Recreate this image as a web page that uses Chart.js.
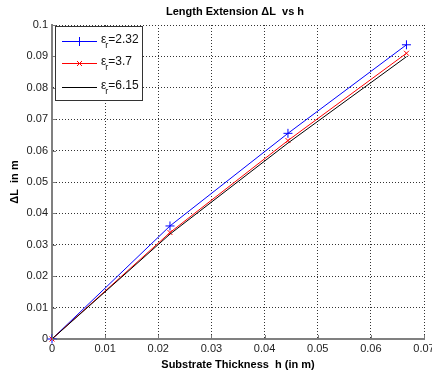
<!DOCTYPE html>
<html>
<head>
<meta charset="utf-8">
<script src="https://cdn.jsdelivr.net/npm/chart.js@4"></script>
<style>
  body { margin: 0; background: #fff; }
  canvas { display: block; }
</style>
</head>
<body>
<canvas id="myChart" width="432" height="375"></canvas>
<script>
// substrate thickness h (m)
var hValues = [0, 0.0222, 0.0444, 0.0667];
// length extension dL (m) for each permittivity
var dL_232 = [0, 0.0360, 0.0655, 0.0937];
var dL_37  = [0, 0.0339, 0.0632, 0.0910];
var dL_615 = [0, 0.0334, 0.0624, 0.0899];
var epsValues = ['2.32', '3.7', '6.15'];
var seriesColors = ['rgb(0,0,255)', 'rgb(255,0,0)', 'rgb(0,0,0)'];
var seriesMarkers = ['cross', 'crossRot', 'none'];

var chartTitle = 'Length Extension \u0394L  vs h';
var xTitle = 'Substrate Thickness  h (in m)';
var yTitle = '\u0394L  in m';

var FONT = 'Arial, "Liberation Sans", Helvetica, sans-serif';

function toPoints(ys){
    return hValues.map(function(h, i){ return {x: h, y: ys[i]}; });
}

// MATLAB-ish title + inward ticks + legend with subscript
var extras = {
    id: 'extras',
    afterDraw: function(chart){
        var ctx = chart.ctx;
        var a = chart.chartArea;
        var xs = chart.scales.x, ys = chart.scales.y;
        ctx.save();

        // inward ticks
        ctx.fillStyle = '#7a7a7a';
        xs.ticks.forEach(function(t){
            var px = Math.round(xs.getPixelForValue(t.value));
            ctx.fillRect(px, a.bottom - 4, 1, 4);
        });
        ys.ticks.forEach(function(t){
            var py = Math.round(ys.getPixelForValue(t.value));
            ctx.fillRect(a.left, py, 4, 1);
        });

        // title
        ctx.fillStyle = '#000';
        ctx.font = 'bold 11px ' + FONT;
        ctx.textAlign = 'center';
        ctx.textBaseline = 'middle';
        ctx.fillText(chartTitle, (a.left + a.right) / 2 - 3, 12);

        // legend box
        ctx.fillStyle = '#333';
        ctx.fillRect(55, 26, 88, 75);
        ctx.fillStyle = '#fff';
        ctx.fillRect(56, 27, 86, 73);

        var rows = [41, 63, 87];
        for (var i = 0; i < epsValues.length; i++) {
            var y = rows[i];
            var col = seriesColors[i];
            ctx.fillStyle = col;
            ctx.fillRect(62, y, 35, 1);
            if (seriesMarkers[i] === 'cross') {
                ctx.fillRect(79, y - 4, 1, 9);
                ctx.fillRect(75, y, 9, 1);
            } else if (seriesMarkers[i] === 'crossRot') {
                ctx.strokeStyle = col;
                ctx.lineWidth = 1;
                ctx.beginPath();
                ctx.moveTo(77, y - 2); ctx.lineTo(82, y + 3);
                ctx.moveTo(77, y + 3); ctx.lineTo(82, y - 2);
                ctx.stroke();
            }
            ctx.fillStyle = '#111';
            ctx.textAlign = 'left';
            ctx.textBaseline = 'middle';
            ctx.font = '12px ' + FONT;
            var tx = 101;
            ctx.fillText('\u03b5', tx, y - 1);
            var w = ctx.measureText('\u03b5').width;
            ctx.font = '9px ' + FONT;
            ctx.fillText('r', tx + w - 1, y + 5);
            var w2 = ctx.measureText('r').width;
            ctx.font = '12px ' + FONT;
            ctx.fillText('=' + epsValues[i], tx + w + w2 - 1, y - 1);
        }
        ctx.restore();
    }
};

var ctx = document.getElementById('myChart').getContext('2d');
var myChart = new Chart(ctx, {
    type: 'scatter',
    data: {
        datasets: [{
            label: 'er=' + epsValues[0],
            data: toPoints(dL_232),
            showLine: true,
            borderColor: seriesColors[0],
            backgroundColor: seriesColors[0],
            borderWidth: 1,
            pointStyle: 'cross',
            pointRadius: 4.5,
            pointBorderWidth: 1,
            clip: 6,
            order: 3
        }, {
            label: 'er=' + epsValues[1],
            data: toPoints(dL_37),
            showLine: true,
            borderColor: seriesColors[1],
            backgroundColor: seriesColors[1],
            borderWidth: 1,
            pointStyle: 'crossRot',
            pointRadius: 3.5,
            pointBorderWidth: 1,
            clip: 6,
            order: 2
        }, {
            label: 'er=' + epsValues[2],
            data: toPoints(dL_615),
            showLine: true,
            borderColor: seriesColors[2],
            backgroundColor: seriesColors[2],
            borderWidth: 1,
            pointRadius: 0,
            clip: 6,
            order: 1
        }]
    },
    options: {
        responsive: false,
        animation: false,
        layout: { padding: { left: 0, right: 8, top: 25, bottom: 0 } },
        plugins: {
            legend: { display: false },
            title: { display: false },
            tooltip: { enabled: false }
        },
        scales: {
            x: {
                type: 'linear',
                min: 0,
                max: 0.07,
                afterFit: function(s){ s.height = 36; s.paddingLeft = 0; s.paddingRight = 0; },
                ticks: {
                    stepSize: 0.01,
                    padding: 3,
                    color: '#222',
                    font: { family: FONT, size: 11 },
                    maxRotation: 0,
                    callback: function(v){ return String(+v.toFixed(2)); }
                },
                grid: {
                    color: '#333',
                    drawTicks: false,
                    lineWidth: 1
                },
                border: { display: true, color: '#808080', width: 2, dash: [1, 2] },
                title: {
                    display: true,
                    text: xTitle,
                    color: '#000',
                    font: { family: FONT, size: 11, weight: 'bold' },
                    padding: { top: 0, bottom: 3 }
                }
            },
            y: {
                min: 0,
                max: 0.1,
                afterFit: function(s){ s.width = 52; s.paddingTop = 0; s.paddingBottom = 0; },
                ticks: {
                    stepSize: 0.01,
                    padding: 4,
                    color: '#222',
                    font: { family: FONT, size: 11 },
                    callback: function(v){ return String(+v.toFixed(2)); }
                },
                grid: {
                    color: '#333',
                    drawTicks: false,
                    lineWidth: 1
                },
                border: { display: true, color: '#808080', width: 2, dash: [1, 2] },
                title: {
                    display: true,
                    text: yTitle,
                    color: '#000',
                    font: { family: FONT, size: 11, weight: 'bold' },
                    padding: { top: 8, bottom: 0 }
                }
            }
        }
    },
    plugins: [extras]
});
</script>
</body>
</html>
